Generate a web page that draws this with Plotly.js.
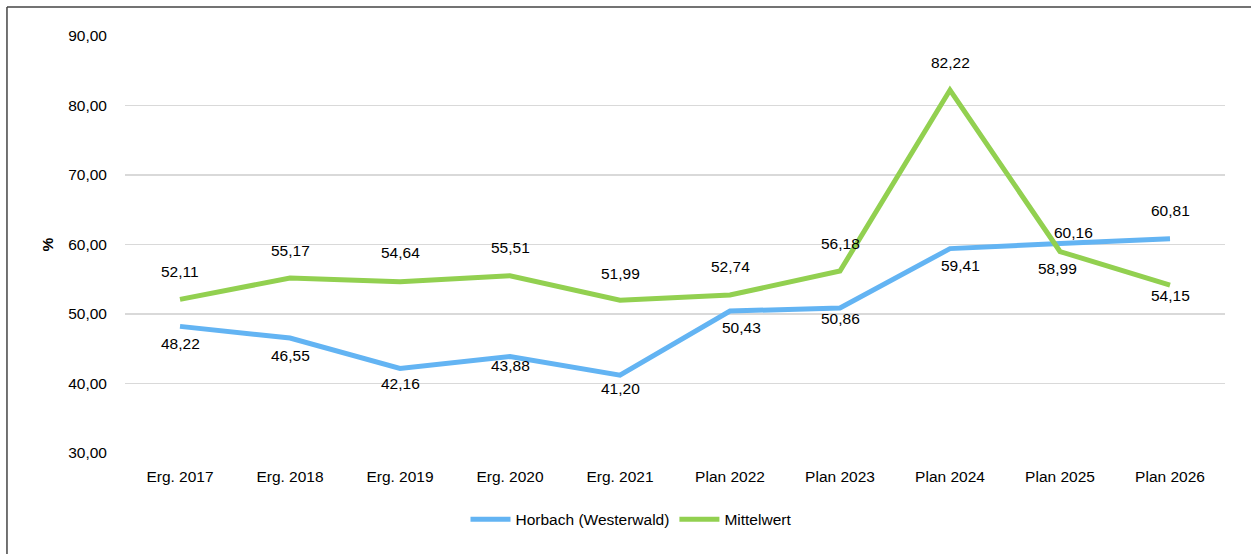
<!DOCTYPE html>
<html>
<head>
<meta charset="utf-8">
<script src="https://cdn.plot.ly/plotly-3.0.1.min.js"></script>
<style>
html,body{margin:0;padding:0;background:#fff;}
#chart{width:1251px;height:554px;}
</style>
</head>
<body>
<div id="chart"></div>
<script>
const categories = ["Erg. 2017","Erg. 2018","Erg. 2019","Erg. 2020","Erg. 2021","Plan 2022","Plan 2023","Plan 2024","Plan 2025","Plan 2026"];
const horbach = [48.22, 46.55, 42.16, 43.88, 41.20, 50.43, 50.86, 59.41, 60.16, 60.81];
const mittelwert = [52.11, 55.17, 54.64, 55.51, 51.99, 52.74, 56.18, 82.22, 58.99, 54.15];
const seriesNames = ["Horbach (Westerwald)", "Mittelwert"];
const yTicks = [30, 40, 50, 60, 70, 80, 90];

// label placement (pixel offsets), kept apart from the data
const horbachShiftY = [-17, -18, -15, -9, -13, -16, -10, -17, 11, 28];
const horbachShiftX = [0, 0, 0, 0, 0, 11, 0, 10, 13, 0];
const mittelShiftY = [28, 28, 29, 28, 27, 28, 28, 28, -17, -10];
const mittelShiftX = [0, 0, 0, 0, 0, 0, 0, 0, -3, 0];

const fmt = v => v.toFixed(2).replace('.', ',');
const FONT = "Liberation Sans, Arial, sans-serif";
const FS = 15.5;

const annotations = [];
function addLabels(vals, sx, sy) {
  vals.forEach((v, i) => {
    annotations.push({
      x: categories[i], y: v, xref: 'x', yref: 'y',
      text: fmt(v), showarrow: false,
      xanchor: 'center', yanchor: 'middle',
      xshift: sx[i], yshift: sy[i],
      font: {family: FONT, size: FS, color: '#000'}
    });
  });
}
addLabels(horbach, horbachShiftX, horbachShiftY);
addLabels(mittelwert, mittelShiftX, mittelShiftY);

const traces = [
  {x: categories, y: horbach, name: seriesNames[0], type: 'scatter', mode: 'lines',
   line: {color: '#63b4f3', width: 5}},
  {x: categories, y: mittelwert, name: seriesNames[1], type: 'scatter', mode: 'lines',
   line: {color: '#92d050', width: 5}}
];

const layout = {
  width: 1251, height: 554,
  margin: {l: 125, r: 26, t: 36, b: 101},
  paper_bgcolor: '#fff', plot_bgcolor: '#fff',
  separators: ',.',
  font: {family: FONT, size: FS, color: '#000'},
  showlegend: true,
  legend: {orientation: 'h', x: 0.46, xanchor: 'center', y: -0.16, yanchor: 'middle',
           font: {family: FONT, size: FS, color: '#000'}, itemwidth: 40, traceorder: 'normal'},
  xaxis: {type: 'category', showgrid: false, zeroline: false, showline: false,
          ticks: 'outside', ticklen: 9, tickcolor: 'rgba(0,0,0,0)',
          tickfont: {family: FONT, size: FS}, range: [-0.5, 9.5], fixedrange: true},
  yaxis: {range: [30, 90], tickvals: yTicks, tickformat: '.2f', showgrid: true,
          gridcolor: '#d9d9d9', gridwidth: 1.5, zeroline: false, showline: false,
          ticks: '', ticklabelstandoff: 17, tickfont: {family: FONT, size: FS},
          title: {text: '<b>%</b>', font: {family: FONT, size: FS, color: '#000'}, standoff: 10}},
  annotations: annotations,
  shapes: [
    {type: 'line', xref: 'paper', yref: 'paper', x0: -0.1073, x1: -0.1073, y0: 1.0695, y1: -0.25,
     line: {color: '#444', width: 1.5}},
    {type: 'line', xref: 'paper', yref: 'paper', x0: -0.1073, x1: 1.03, y0: 1.0695, y1: 1.0695,
     line: {color: '#444', width: 1.5}}
  ]
};

Plotly.newPlot('chart', traces, layout, {displayModeBar: false, staticPlot: true});
</script>
</body>
</html>
